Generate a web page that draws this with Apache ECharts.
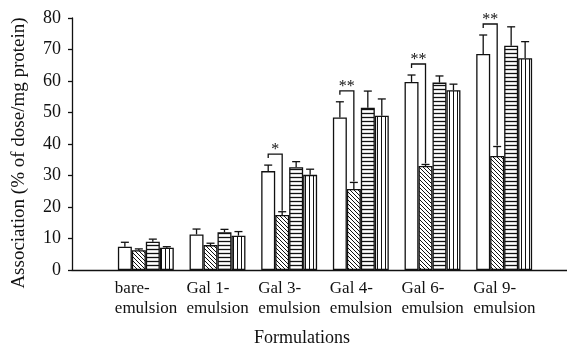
<!DOCTYPE html>
<html>
<head>
<meta charset="utf-8">
<script src="https://cdn.jsdelivr.net/npm/echarts@6/dist/echarts.min.js"></script>
<style>
  html, body { margin: 0; padding: 0; background: #fff; }
  #chart { width: 567px; height: 343px; }
</style>
</head>
<body>
<div id="chart"></div>
<script>
// Formulations on the x axis
const categories = ['bare-emulsion', 'Gal 1-emulsion', 'Gal 3-emulsion', 'Gal 4-emulsion', 'Gal 6-emulsion', 'Gal 9-emulsion'];

// Mean association (% of dose/mg protein) for the four conditions
const openValues       = [7.4, 11.3, 31.4, 48.4, 59.7, 68.6];
const diagonalValues   = [6.3, 7.9, 17.5, 25.7, 33.0, 36.2];
const horizontalValues = [9.0, 12.0, 32.6, 51.5, 59.5, 71.2];
const verticalValues   = [7.1, 10.9, 30.2, 49.0, 57.1, 67.2];

// Upper error (SD)
const openErrors       = [1.4, 1.7, 1.9, 5.0, 2.2, 6.0];
const diagonalErrors   = [0.4, 0.6, 1.0, 2.1, 0.5, 3.0];
const horizontalErrors = [0.8, 0.9, 1.8, 5.3, 2.1, 6.0];
const verticalErrors   = [0.3, 1.3, 1.8, 5.3, 1.9, 5.3];

// Significance between open and diagonal bars
const sigLabels = ['', '', '*', '**', '**', '**'];

// Y axis ticks
const yTicks = [0, 10, 20, 30, 40, 50, 60, 70, 80];

const FONT = 'Liberation Serif';
const INK = '#111';

// Fill patterns drawn on small canvases
function makePattern(kind) {
  const s = 4;
  const c = document.createElement('canvas');
  c.width = s; c.height = s;
  const g = c.getContext('2d');
  g.fillStyle = '#fff';
  g.fillRect(0, 0, s, s);
  g.strokeStyle = INK;
  g.lineWidth = 1;
  g.beginPath();
  if (kind === 'diag') {
    for (let x0 = -s; x0 <= s; x0 += s) {
      g.moveTo(x0, 0);
      g.lineTo(x0 + s, s);
    }
  } else if (kind === 'horiz') {
    g.lineWidth = 1.3;
    g.moveTo(0, 1.5); g.lineTo(s, 1.5);
  } else if (kind === 'vert') {
    g.moveTo(1.5, 0); g.lineTo(1.5, s);
  }
  g.stroke();
  return { image: c, repeat: 'repeat' };
}

const seriesDefs = [
  { name: 'open', values: openValues, errors: openErrors, fill: '#fff' },
  { name: 'diagonal', values: diagonalValues, errors: diagonalErrors, fill: makePattern('diag') },
  { name: 'horizontal', values: horizontalValues, errors: horizontalErrors, fill: makePattern('horiz') },
  { name: 'vertical', values: verticalValues, errors: verticalErrors, fill: makePattern('vert') }
];

const GROUP_FRAC = 0.78; // fraction of a category band taken by the bar group

const barSeries = seriesDefs.map(d => ({
  type: 'bar',
  name: d.name,
  xAxisIndex: 0,
  yAxisIndex: 0,
  data: d.values,
  barGap: '0%',
  barCategoryGap: ((1 - GROUP_FRAC) * 100) + '%',
  itemStyle: { color: d.fill, borderColor: INK, borderWidth: 1.3 },
  emphasis: { disabled: true },
  silent: true,
  z: 2
}));

// Error bar records: [category, seriesSlot, mean, error]
const errorData = [];
seriesDefs.forEach((d, k) => {
  d.values.forEach((v, i) => errorData.push([i, k, v, d.errors[i]]));
});

function slotX(api, cat, slot) {
  const band = api.size([1, 0])[0];
  const barW = band * GROUP_FRAC / 4;
  return api.coord([cat, 0])[0] + (slot - 1.5) * barW;
}

const errorSeries = {
  type: 'custom',
  xAxisIndex: 0,
  yAxisIndex: 0,
  silent: true,
  z: 3,
  data: errorData,
  renderItem(params, api) {
    const cat = api.value(0), slot = api.value(1);
    const mean = api.value(2), err = api.value(3);
    const x = slotX(api, cat, slot);
    const yTop = api.coord([cat, mean])[1];
    const yCap = api.coord([cat, mean + err])[1];
    const st = { stroke: INK, lineWidth: 1.3 };
    return {
      type: 'group',
      children: [
        { type: 'line', shape: { x1: x, y1: yTop, x2: x, y2: yCap }, style: st },
        { type: 'line', shape: { x1: x - 4, y1: yCap, x2: x + 4, y2: yCap }, style: st }
      ]
    };
  }
};

// Significance brackets between the open and diagonal bars
const bracketData = [];
sigLabels.forEach((lab, i) => {
  if (lab) bracketData.push([i, openValues[i] + openErrors[i], diagonalValues[i] + diagonalErrors[i]]);
});

const bracketSeries = {
  type: 'custom',
  xAxisIndex: 0,
  yAxisIndex: 0,
  silent: true,
  z: 4,
  data: bracketData,
  renderItem(params, api) {
    const cat = api.value(0);
    const xl = slotX(api, cat, 0);
    const xr = slotX(api, cat, 1);
    const yOpen = api.coord([cat, api.value(1)])[1];
    const yDiag = api.coord([cat, api.value(2)])[1];
    const level = yOpen - 11;
    const st = { stroke: INK, lineWidth: 1.3, fill: null };
    return {
      type: 'group',
      children: [
        { type: 'polyline', shape: { points: [[xl, level + 4], [xl, level], [xr, level], [xr, yDiag - 1]] }, style: st },
        {
          type: 'text',
          style: {
            x: (xl + xr) / 2, y: level + 4,
            text: sigLabels[cat],
            fill: INK,
            font: '16px "' + FONT + '"',
            align: 'center',
            verticalAlign: 'bottom'
          }
        }
      ]
    };
  }
};

const chart = echarts.init(document.getElementById('chart'), null, { renderer: 'canvas' });

chart.setOption({
  animation: false,
  backgroundColor: '#fff',
  textStyle: { fontFamily: FONT, color: INK },
  grid: [
    { left: 110, right: 27, top: 18, bottom: 73, outerBoundsMode: 'none', containLabel: false },
    { left: 72, right: 0, top: 18, bottom: 73, outerBoundsMode: 'none', containLabel: false }
  ],
  xAxis: [
    {
      type: 'category',
      gridIndex: 0,
      data: categories,
      axisLine: { show: false },
      axisTick: { show: false },
      axisLabel: {
        interval: 0,
        margin: 9,
        formatter: v => {
          const p = v.indexOf('-');
          return '{a|' + v.slice(0, p + 1) + '}\n{a|' + v.slice(p + 1) + '}';
        },
        rich: {
          a: { width: 62, align: 'left', fontFamily: FONT, fontSize: 17, color: INK, lineHeight: 20 }
        }
      }
    },
    {
      type: 'value',
      gridIndex: 1,
      min: 0, max: 1,
      axisLine: { show: true, lineStyle: { color: INK, width: 1.3 } },
      axisTick: { show: false },
      axisLabel: { show: false },
      splitLine: { show: false },
      name: 'Formulations',
      nameLocation: 'middle',
      nameGap: 59,
      nameTextStyle: { fontFamily: FONT, fontSize: 18, color: INK, padding: [0, 35, 0, 0] }
    }
  ],
  yAxis: [
    {
      type: 'value',
      gridIndex: 0,
      min: yTicks[0], max: yTicks[yTicks.length - 1], interval: 10,
      show: false
    },
    {
      type: 'value',
      gridIndex: 1,
      min: yTicks[0], max: yTicks[yTicks.length - 1], interval: 10,
      axisLine: { show: true, lineStyle: { color: INK, width: 1.3 } },
      axisTick: { show: true, inside: false, length: 4, lineStyle: { color: INK, width: 1.3 } },
      axisLabel: { fontFamily: FONT, fontSize: 18, color: INK, margin: 11 },
      splitLine: { show: false },
      name: 'Association (% of dose/mg protein)',
      nameLocation: 'middle',
      nameGap: 43,
      nameTextStyle: { fontFamily: FONT, fontSize: 19, color: INK, padding: [0, 18, 0, 0] }
    }
  ],
  series: [...barSeries, errorSeries, bracketSeries]
});
</script>
</body>
</html>
